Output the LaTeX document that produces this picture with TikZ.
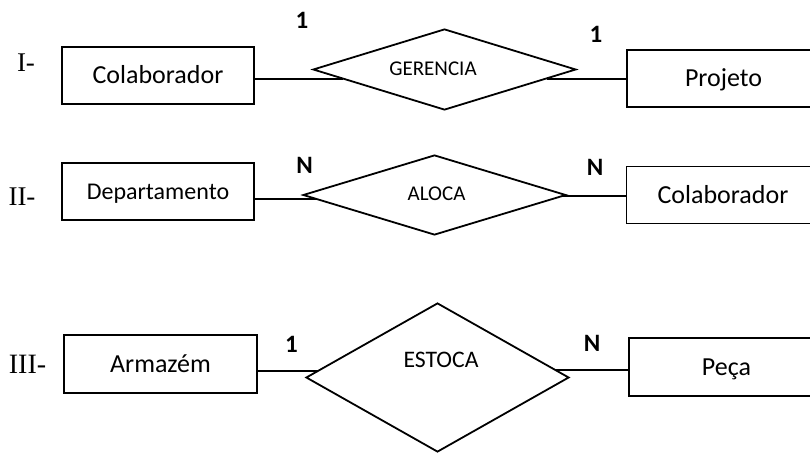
\documentclass[tikz,border=0pt]{standalone}
\usepackage{fontspec}
\setmainfont{Carlito}
\newfontfamily\romanfont{Liberation Serif}
\usetikzlibrary{shapes.geometric}
\begin{document}
\begin{tikzpicture}[x=1pt,y=-1pt,
  ent/.style={draw, line width=1.8pt, minimum width=192pt, minimum height=57pt, inner sep=0pt, font=\fontsize{26}{30}\selectfont, text height=16.4pt, text depth=0pt},
  rel/.style={draw, diamond, line width=1.8pt, inner sep=0pt},
  rtext/.style={inner sep=0pt, text depth=0pt},
  card/.style={font=\bfseries\fontsize{25}{30}\selectfont, inner sep=0pt, text height=15.8pt, text depth=0pt},
  roman/.style={font=\romanfont\fontsize{27}{30}\selectfont, inner sep=0pt, text height=17.9pt, text depth=0pt},
  conn/.style={line width=1.8pt}]
\useasboundingbox (0,0) rectangle (810,452);
\clip (0,0) rectangle (810,452);

% Row I
\node[roman] (r1) at (26,63) {I-};
\node[ent] (c1) at (158,75.5) {Colaborador};
\node[rel, minimum width=263pt, minimum height=81pt] (d1) at (444.5,69.5) {};
\node[rtext, font=\fontsize{21}{25}\selectfont, text height=13.3pt] (t1) at (433,68.5) {GERENCIA};
\node[ent, minimum width=193pt] (p1) at (723.5,78.5) {Projeto};
\node[card] (k1a) at (302,21) {1};
\node[card] (k1b) at (596,34.5) {1};
\coordinate (e1a) at (342.5,79);
\coordinate (e1b) at (546.5,79);
\draw[conn] (c1.east |- e1a) -- (e1a);
\draw[conn] (e1b) -- (p1.west |- e1b);

% Row II
\node[roman] (r2) at (22,197) {II-};
\node[ent, font=\fontsize{24}{28}\selectfont, text height=15.2pt] (c2) at (158,191.5) {Departamento};
\node[rel, minimum width=263pt, minimum height=80pt] (d2) at (434.5,195) {};
\node[rtext, font=\fontsize{21}{25}\selectfont, text height=13.3pt] (t2) at (436.5,194) {ALOCA};
\node[ent, minimum width=193pt] (p2) at (723,195) {Colaborador};
\node[card] (k2a) at (304.5,165.5) {N};
\node[card] (k2b) at (595,167.5) {N};
\coordinate (e2a) at (316,199);
\coordinate (e2b) at (562.7,196);
\draw[conn] (c2.east |- e2a) -- (e2a);
\draw[conn] (e2b) -- (p2.west |- e2b);

% Row III
\node[roman, font=\romanfont\fontsize{28}{32}\selectfont] (r3) at (27.5,365) {III-};
\node[ent, minimum width=193pt, minimum height=58pt] (c3) at (160.5,364) {Armazém};
\node[rel, minimum width=263pt, minimum height=149pt] (d3) at (437.5,377.5) {};
\node[rtext, font=\fontsize{23.7}{28}\selectfont, text height=15pt] (t3) at (441,360) {ESTOCA};
\node[ent, minimum width=195pt, minimum height=58pt] (p3) at (726.5,367) {Peça};
\node[card] (k3a) at (291.5,345) {1};
\node[card] (k3b) at (592,343.5) {N};
\coordinate (e3a) at (318.4,371);
\coordinate (e3b) at (554.9,370);
\draw[conn] (c3.east |- e3a) -- (e3a);
\draw[conn] (e3b) -- (p3.west |- e3b);
\end{tikzpicture}
\end{document}
